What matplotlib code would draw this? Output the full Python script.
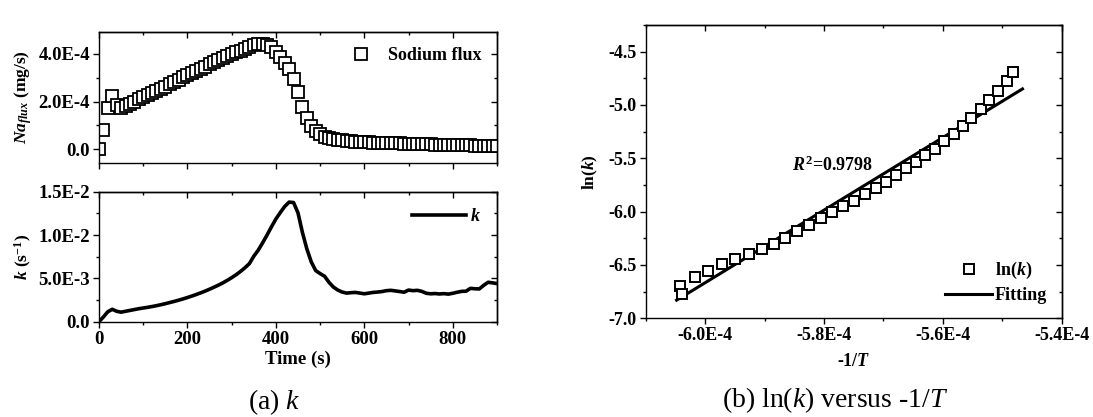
import numpy as np
import matplotlib
matplotlib.use("Agg")
import matplotlib.pyplot as plt
from matplotlib.ticker import MultipleLocator, FuncFormatter

# ---------------- data ----------------
time_s = np.arange(0, 901, 10)

# sodium flux (x1e-4 mg/s), one reading every 10 s
na_flux_e4 = [
    0.00, 0.81, 1.72, 2.24, 1.85, 1.72, 1.80, 1.90, 2.00, 2.10,
    2.18, 2.26, 2.35, 2.44, 2.54, 2.63, 2.72, 2.82, 2.91, 3.01,
    3.10, 3.20, 3.29, 3.38, 3.47, 3.56, 3.65, 3.73, 3.82, 3.90,
    3.98, 4.06, 4.14, 4.22, 4.30, 4.36, 4.40, 4.41, 4.38, 4.30,
    4.10, 3.85, 3.62, 3.37, 2.95, 2.42, 1.78, 1.29, 0.96, 0.76,
    0.62, 0.53, 0.46, 0.42, 0.40, 0.37, 0.35, 0.33, 0.32, 0.31,
    0.30, 0.29, 0.28, 0.28, 0.27, 0.26, 0.25, 0.25, 0.24, 0.23,
    0.23, 0.22, 0.21, 0.21, 0.20, 0.20, 0.19, 0.19, 0.18, 0.18,
    0.17, 0.17, 0.16, 0.16, 0.16, 0.15, 0.15, 0.14, 0.14, 0.14,
    0.13,
]

# rate constant k (x1e-3 1/s), one reading every 10 s
k_e3 = [
    0.00, 0.55, 1.15, 1.43, 1.20, 1.10, 1.20, 1.30, 1.40, 1.50,
    1.58, 1.66, 1.75, 1.85, 1.96, 2.08, 2.21, 2.34, 2.48, 2.63,
    2.79, 2.96, 3.14, 3.33, 3.53, 3.75, 3.98, 4.22, 4.48, 4.77,
    5.08, 5.42, 5.80, 6.22, 6.70, 7.55, 8.25, 9.10, 10.00, 10.95,
    11.85, 12.60, 13.30, 13.80, 13.75, 12.55, 10.30, 8.40, 6.90, 5.90,
    5.55, 5.25, 4.55, 4.00, 3.65, 3.42, 3.30, 3.35, 3.38, 3.30,
    3.22, 3.30, 3.38, 3.42, 3.48, 3.58, 3.62, 3.55, 3.48, 3.40,
    3.65, 3.58, 3.62, 3.50, 3.28, 3.22, 3.25, 3.20, 3.24, 3.18,
    3.28, 3.40, 3.50, 3.52, 3.85, 3.80, 3.78, 4.20, 4.55, 4.48,
    4.40,
]

# Arrhenius-type plot: -1/T (x1e-4) and ln(k)
inv_t_e4 = [
    -6.0426, -6.0383, -6.0174, -5.9944, -5.9709, -5.9489, -5.9270, -5.9051,
    -5.8849, -5.8652, -5.8462, -5.8253, -5.8051, -5.7865, -5.7683, -5.7489,
    -5.7309, -5.7124, -5.6955, -5.6787, -5.6618, -5.6450, -5.6293, -5.6130,
    -5.5973, -5.5816, -5.5665, -5.5518, -5.5366, -5.5215, -5.5068, -5.4917,
    -5.4819,
]
ln_k = [
    -6.694, -6.772, -6.616, -6.554, -6.491, -6.441, -6.400, -6.350,
    -6.301, -6.245, -6.179, -6.123, -6.060, -6.004, -5.943, -5.896,
    -5.835, -5.776, -5.725, -5.660, -5.594, -5.532, -5.472, -5.410,
    -5.335, -5.276, -5.201, -5.123, -5.041, -4.954, -4.867, -4.776,
    -4.687,
]
fit_span_e4 = [-6.048, -5.466]
r2_text = "0.9798"

# ---------------- style ----------------
plt.rcParams["font.family"] = ["Liberation Serif", "DejaVu Serif"]
plt.rcParams["font.weight"] = "bold"
plt.rcParams["axes.labelweight"] = "bold"
plt.rcParams["mathtext.fontset"] = "custom"
plt.rcParams["mathtext.rm"] = "Liberation Serif:weight=bold"
plt.rcParams["mathtext.bf"] = "Liberation Serif:weight=bold"
plt.rcParams["mathtext.it"] = "Liberation Serif:style=italic:weight=bold"
plt.rcParams["mathtext.sf"] = "Liberation Serif:style=italic:weight=normal"
plt.rcParams["axes.linewidth"] = 1.0

W, H = 1093, 417
fig = plt.figure(figsize=(W / 100, H / 100), dpi=100)


def box(l, t, r, b):
    return [l / W, 1 - b / H, (r - l) / W, (b - t) / H]


def sci_fmt(v, pos):
    if abs(v) < 1e-12:
        return "0.0"
    e = int(np.floor(np.log10(abs(v))))
    m = v / 10 ** e
    return f"{m:.1f}E{e}"


def style_ticks(ax, xmaj, xmin, ymaj, ymin, size, show_xlabels=True):
    ax.xaxis.set_major_locator(MultipleLocator(xmaj))
    ax.xaxis.set_minor_locator(MultipleLocator(xmin))
    ax.yaxis.set_major_locator(MultipleLocator(ymaj))
    ax.yaxis.set_minor_locator(MultipleLocator(ymin))
    ax.tick_params(which="major", direction="out", length=4.5, width=1.0,
                   labelsize=size, pad=2)
    ax.tick_params(which="minor", direction="out", length=2.5, width=1.0)
    if not show_xlabels:
        ax.tick_params(axis="x", labelbottom=False)
    sx = ax.secondary_xaxis("top")
    sx.xaxis.set_major_locator(MultipleLocator(xmaj))
    sx.xaxis.set_minor_locator(MultipleLocator(xmin))
    sx.tick_params(which="major", direction="in", length=4.5, width=1.0,
                   labeltop=False)
    sx.tick_params(which="minor", direction="in", length=2.5, width=1.0)
    sy = ax.secondary_yaxis("right")
    sy.yaxis.set_major_locator(MultipleLocator(ymaj))
    sy.yaxis.set_minor_locator(MultipleLocator(ymin))
    sy.tick_params(which="major", direction="in", length=4.5, width=1.0,
                   labelright=False)
    sy.tick_params(which="minor", direction="in", length=2.5, width=1.0)


# ---------------- (a) top: sodium flux ----------------
ax1 = fig.add_axes(box(99, 32, 497, 163))
na_flux = np.array(na_flux_e4) * 1e-4
ax1.plot(time_s, na_flux, ls="none", marker="s", ms=8, mew=1.3,
         mfc="white", mec="black", label="Sodium flux")
ax1.set_xlim(0, 900)
ax1.set_ylim(-0.58e-4, 4.92e-4)
style_ticks(ax1, 200, 100, 2e-4, 1e-4, 13.5, show_xlabels=False)
ax1.yaxis.set_major_formatter(FuncFormatter(sci_fmt))
ax1.set_ylabel(r"$Na_{flux}$ (mg/s)", fontsize=12.5, labelpad=3)
ax1.legend(loc="upper right", frameon=False, fontsize=13, handlelength=1.2,
           handletextpad=0.9, borderaxespad=0.45)

# ---------------- (a) bottom: k ----------------
ax2 = fig.add_axes(box(99, 191.7, 497, 321.7))
k_vals = np.array(k_e3) * 1e-3
ax2.plot(time_s, k_vals, color="black", lw=2.6, label=r"$k$")
ax2.set_xlim(0, 900)
ax2.set_ylim(0, 1.5e-2)
style_ticks(ax2, 200, 100, 5e-3, 2.5e-3, 13.5)
ax2.yaxis.set_major_formatter(FuncFormatter(sci_fmt))
ax2.set_ylabel(r"$k$ (s$^{-1}$)", fontsize=12.5, labelpad=3)
ax2.set_xlabel("Time (s)", fontsize=13.5, labelpad=2)
ax2.legend(loc="upper right", frameon=False, fontsize=13, handlelength=3.0,
           handletextpad=0.2, borderaxespad=0.5)

fig.text(274 / W, 1 - 402 / H, r"(a) $\mathsf{k}$", fontsize=20,
         fontweight="normal", ha="center", va="center")

# ---------------- (b) ln(k) vs -1/T ----------------
ax3 = fig.add_axes(box(645.7, 25, 1061.7, 318.3))
x_b = np.array(inv_t_e4) * 1e-4
y_b = np.array(ln_k)
slope, intercept = np.polyfit(x_b, y_b, 1)
xf = np.array(fit_span_e4) * 1e-4
ax3.plot(x_b, y_b, ls="none", marker="s", ms=7.4, mew=1.4,
         mfc="white", mec="black", label=r"ln($k$)", zorder=3)
ax3.plot(xf, slope * xf + intercept, color="black", lw=2.2,
         label="Fitting", zorder=2)
ax3.set_xlim(-6.1e-4, -5.4e-4)
ax3.set_ylim(-7.0, -4.25)
style_ticks(ax3, 0.2e-4, 0.1e-4, 0.5, 0.25, 13)
ax3.xaxis.set_major_formatter(FuncFormatter(sci_fmt))
ax3.yaxis.set_major_formatter(FuncFormatter(lambda v, p: f"{v:.1f}"))
ax3.set_ylabel(r"ln($k$)", fontsize=12.5, labelpad=6)
ax3.set_xlabel(r"-1/$T$", fontsize=13, labelpad=6)
ax3.text(-5.853e-4, -5.57, r"$R^{2}$=" + r2_text, fontsize=13,
         ha="left", va="center")
ax3.legend(loc="lower right", frameon=False, fontsize=13, handlelength=2.6,
           handletextpad=0.15, borderaxespad=0.4, labelspacing=0.3)

fig.text(835 / W, 1 - 400 / H,
         r"(b) ln($\mathsf{k}$) versus -1/$\mathsf{T}$", fontsize=20,
         fontweight="normal", ha="center", va="center")

fig.savefig("out.png", dpi=100)
